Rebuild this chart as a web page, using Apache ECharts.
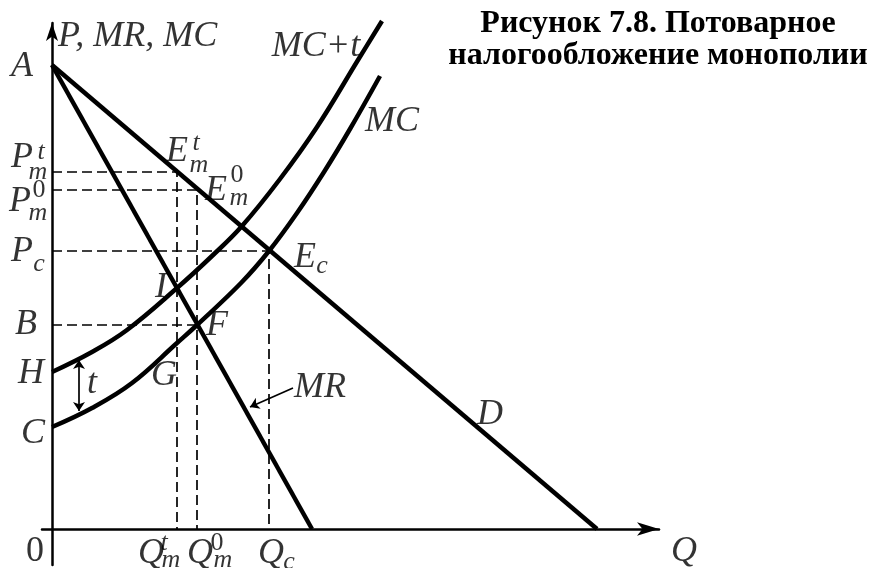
<!DOCTYPE html>
<html>
<head>
<meta charset="utf-8">
<script src="https://cdn.jsdelivr.net/npm/echarts@6/dist/echarts.min.js"></script>
<style>
  html, body { margin: 0; padding: 0; background: #fff; }
  #chart { width: 873px; height: 568px; }
</style>
</head>
<body>
<div id="chart"></div>
<script>
// кривые спроса, MR, MC и MC+t (единицы условные)
var demandQ = [0, 545];
var demandP = [464, 0];
var mrQ = [0, 260];
var mrP = [464, 0];
var mcQ = [0, 40, 80, 125, 145, 189, 217, 245, 272, 298, 328];
var mcP = [102, 121, 146, 186, 204, 246, 278, 316, 357, 400, 453];
var mcTaxQ = [0, 40, 75, 125, 160, 190, 228, 265, 306, 330];
var mcTaxP = [157, 177, 199, 241, 273, 303, 350, 402, 469, 508];

// уровни цен и объёмов
var priceMt = 357;   // P_m^t
var priceM0 = 339;   // P_m^0
var priceC = 278;    // P_c
var priceB = 204;    // B
var qtyMt = 125;     // Q_m^t
var qtyM0 = 145;     // Q_m^0
var qtyC = 217;      // Q_c

// стрелка t и указатель MR
var tArrow = [[27, 169], [27, 118]];
var mrPointer = [[241, 141], [198, 122]];

// подписи: текст, Q, P, вид (big/small/digit/upright), выравнивание
var labelSpots = [
    ['P, MR, MC', 6, 492, 'big', 'left'],
    ['A', -30, 462, 'big'],
    ['MC+t', 264, 482, 'big'],
    ['MC', 340, 407, 'big'],
    ['E', 125, 377, 'big'], ['t', 144, 386, 'small'], ['m', 147, 364, 'small'],
    ['E', 164, 338, 'big'], ['0', 185, 354, 'digit'], ['m', 187, 331, 'small'],
    ['P', -30, 371, 'big'], ['t', -11, 377, 'small'], ['m', -14, 357, 'small'],
    ['P', -32, 327, 'big'], ['0', -13, 339, 'digit'], ['m', -14, 316, 'small'],
    ['P', -30, 277, 'big'], ['c', -13, 265, 'small'],
    ['E', 253, 271, 'big'], ['c', 270, 263, 'small'],
    ['I', 109, 241, 'big'],
    ['B', -26, 204, 'big'],
    ['F', 165, 203, 'big'],
    ['H', -21, 155, 'big'],
    ['t', 40, 145, 'big'],
    ['G', 112, 153, 'big'],
    ['C', -19, 95, 'big'],
    ['MR', 268, 141, 'big'],
    ['D', 438, 114, 'big'],
    ['0', -17, -23, 'upright'],
    ['Q', 99, -25, 'big'], ['t', 112, -14, 'small'], ['m', 119, -31, 'small'],
    ['Q', 148, -25, 'big'], ['0', 165, -14, 'digit'], ['m', 171, -31, 'small'],
    ['Q', 219, -25, 'big'], ['c', 237, -33, 'small'],
    ['Q', 632, -23, 'big']
];

function zip(xs, ys) {
    var out = [];
    for (var i = 0; i < xs.length; i++) out.push([xs[i], ys[i]]);
    return out;
}

var serif = '"Liberation Serif", "Times New Roman", serif';

var myChart = echarts.init(document.getElementById('chart'));

function curve(name, data, smooth) {
    return {
        name: name,
        type: 'line',
        data: data,
        symbol: 'none',
        smooth: smooth ? 0.4 : false,
        clip: false,
        lineStyle: { color: '#000', width: 4.5, cap: 'butt' },
        z: 5
    };
}

function dashed(data) {
    return {
        type: 'line',
        data: data,
        symbol: 'none',
        clip: false,
        lineStyle: { color: '#000', width: 1.7, type: [10, 5] },
        z: 3
    };
}

var labelData = labelSpots.map(function (s) {
    var kind = s[3];
    var size = (kind === 'small' || kind === 'digit') ? 26 : 36;
    return {
        value: [s[1], s[2]],
        label: {
            show: true,
            position: 'inside',
            formatter: s[0],
            align: s[4] || 'center',
            verticalAlign: 'middle',
            fontFamily: serif,
            fontStyle: (kind === 'upright' || kind === 'digit') ? 'normal' : 'italic',
            fontSize: size,
            color: '#000'
        }
    };
});

var option = {
    animation: false,
    backgroundColor: '#fff',
    grid: { left: 42, right: 214, top: 23, bottom: 3 },
    xAxis: {
        type: 'value',
        min: -10,
        max: 607,
        axisLine: {
            show: true,
            onZero: true,
            symbol: ['none', 'arrow'],
            symbolSize: [10, 22],
            lineStyle: { color: '#000', width: 2.5 }
        },
        axisTick: { show: false },
        axisLabel: { show: false },
        splitLine: { show: false }
    },
    yAxis: {
        type: 'value',
        min: -36,
        max: 506,
        axisLine: {
            show: true,
            onZero: true,
            symbol: ['none', 'arrow'],
            symbolSize: [9, 18],
            lineStyle: { color: '#000', width: 2.5 }
        },
        axisTick: { show: false },
        axisLabel: { show: false },
        splitLine: { show: false }
    },
    graphic: [{
        type: 'text',
        x: 658,
        y: 8,
        style: {
            text: 'Рисунок 7.8. Потоварное\nналогообложение монополии',
            textAlign: 'center',
            textVerticalAlign: 'top',
            fontFamily: serif,
            fontWeight: 'bold',
            fontSize: 32,
            lineHeight: 32,
            fill: '#000'
        }
    }],
    series: [
        dashed([[0, priceMt], [qtyMt, priceMt], [qtyMt, 0]]),
        dashed([[0, priceM0], [qtyM0, priceM0], [qtyM0, 0]]),
        dashed([[0, priceC], [qtyC, priceC], [qtyC, 0]]),
        dashed([[0, priceB], [qtyM0, priceB]]),
        curve('D', zip(demandQ, demandP), false),
        curve('MR', zip(mrQ, mrP), false),
        curve('MC', zip(mcQ, mcP), true),
        curve('MC+t', zip(mcTaxQ, mcTaxP), true),
        {
            type: 'lines',
            coordinateSystem: 'cartesian2d',
            symbol: ['arrow', 'arrow'],
            symbolSize: 9,
            lineStyle: { color: '#000', width: 1.7, opacity: 1 },
            data: [{ coords: tArrow }],
            z: 6
        },
        {
            type: 'lines',
            coordinateSystem: 'cartesian2d',
            symbol: ['none', 'arrow'],
            symbolSize: 9,
            lineStyle: { color: '#000', width: 1.7, opacity: 1 },
            data: [{ coords: mrPointer }],
            z: 6
        },
        {
            type: 'scatter',
            symbol: 'circle',
            symbolSize: 1,
            clip: false,
            itemStyle: { color: 'rgba(0,0,0,0)' },
            data: labelData,
            z: 10
        }
    ]
};

myChart.setOption(option);
</script>
</body>
</html>
